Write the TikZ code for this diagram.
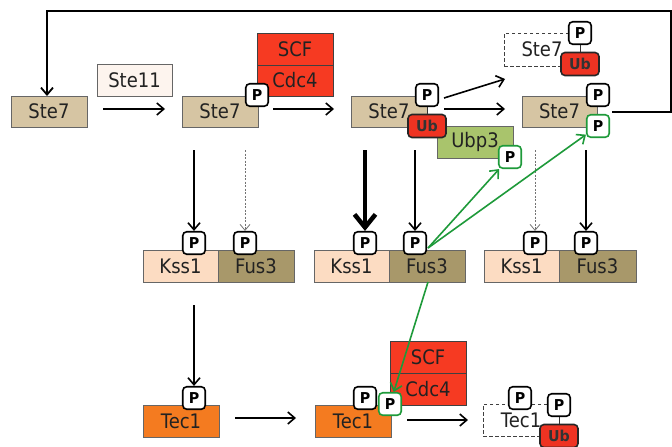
\documentclass[tikz,border=0pt]{standalone}
\usepackage{fontspec}
\usetikzlibrary{arrows.meta,calc}
\newfontfamily\labfont[FakeStretch=0.9]{DejaVu Sans}
\newfontfamily\bfont[FakeStretch=0.95]{DejaVu Sans Bold}
\newcommand\labsz{\labfont\fontsize{20}{20}\selectfont}
\newcommand\psz{\bfont\fontsize{15}{15}\selectfont}
\definecolor{tan}{HTML}{D6C5A3}
\definecolor{cream}{HTML}{FDF4EE}
\definecolor{scfred}{HTML}{F63A22}
\definecolor{ubred}{HTML}{EE3322}
\definecolor{ubpg}{HTML}{A9C46C}
\definecolor{peach}{HTML}{FCDCC2}
\definecolor{olive}{HTML}{A8986A}
\definecolor{tecor}{HTML}{F47B20}
\definecolor{pgreen}{HTML}{1E9A3A}
\definecolor{txt}{HTML}{222222}
\tikzset{
  box/.style={draw=black!60, line width=0.9pt, minimum width=76pt, minimum height=31pt, inner sep=0pt, font=\labsz, text=txt},
  redbox/.style={box, fill=scfred, draw=black!75, line width=1pt},
  dbox/.style={box, draw=black!75, line width=1pt, dash pattern=on 3.5pt off 2.5pt, fill=white},
  pb/.style={draw=black, line width=1.6pt, fill=white, rounded corners=4pt, minimum size=22.5pt, inner sep=0pt, font=\psz, text=black},
  gpb/.style={pb, draw=pgreen},
  ubb/.style={draw=black!85, line width=1.6pt, fill=ubred, rounded corners=4pt, minimum width=38pt, minimum height=23pt, inner sep=0pt, font=\psz, text=black!80},
  arr/.style={line width=1.6pt, -{Straight Barb[length=7pt,width=12pt]}},
  thickarr/.style={line width=4.5pt, -{Straight Barb[length=13pt,width=21pt]}},
  darr/.style={line width=0.8pt, draw=black!55, dash pattern=on 2pt off 1.5pt, -{Straight Barb[length=6pt,width=10pt]}},
  garr/.style={line width=1.6pt, draw=pgreen, -{Straight Barb[length=7pt,width=12pt]}},
  link/.style={line width=0.8pt, draw=black!80}
}
\begin{document}
\begin{tikzpicture}[x=1pt,y=-1pt]
\fill[white] (0,0) rectangle (672,447);
\useasboundingbox (0,0) rectangle (672,447);

% ---- row 1 ----
\node[box, fill=tan] (s71) at (49,111.5) {Ste7};
\node[box, fill=cream, minimum width=75pt, minimum height=32pt] (ste11) at (134.5,80) {Ste11};
\node[box, fill=tan] (s72) at (220,111.5) {Ste7};
\node[redbox, minimum height=32pt] (scf1) at (295,49) {SCF};
\node[redbox] (cdc1) at (295,80.5) {Cdc4};
\node[pb] (p72) at (257,95) {P};

\node[box, fill=tan] (s73) at (389,111.5) {Ste7};
\node[box, fill=ubpg, minimum height=32pt] (ubp3) at (475,142) {Ubp3};
\node[pb] (p73) at (427,95) {P};
\node[ubb] (ub73) at (427,126) {Ub};
\draw[link] (p73) -- (ub73);
\node[gpb] (gpu) at (510,157) {P};

\node[dbox, minimum height=33pt] (s7d) at (542,49.5) {Ste7};
\node[pb] (p7d) at (580,33) {P};
\node[ubb] (ub7d) at (580,64) {Ub};
\draw[link] (p7d) -- (ub7d);

\node[box, fill=tan, minimum width=75pt] (s74) at (559.5,111.5) {Ste7};
\node[pb] (p74) at (598,95) {P};
\node[gpb] (gp74) at (598,126) {P};

% ---- row 2 ----
\node[box, fill=peach, minimum width=75pt, minimum height=32pt] (k1) at (180.5,266) {Kss1};
\node[box, fill=olive, minimum width=76pt, minimum height=32pt] (f1) at (256,266) {Fus3};
\node[box, fill=peach, minimum width=75pt, minimum height=32pt] (k2) at (351.5,266) {Kss1};
\node[box, fill=olive, minimum width=76pt, minimum height=32pt] (f2) at (427,266) {Fus3};
\node[box, fill=peach, minimum width=75pt, minimum height=32pt] (k3) at (521.5,266) {Kss1};
\node[box, fill=olive, minimum width=77pt, minimum height=32pt] (f3) at (597.5,266) {Fus3};
\node[pb] (pk1) at (194,243) {P};
\node[pb] (pf1) at (245,243) {P};
\node[pb] (pk2) at (365,243) {P};
\node[pb] (pf2) at (415,243) {P};
\node[pb] (pk3) at (535,243) {P};
\node[pb] (pf3) at (586,243) {P};

% ---- row 3 ----
\node[box, fill=tecor, minimum height=32pt] (t1) at (181,421) {Tec1};
\node[pb] (pt1) at (194,398) {P};
\node[box, fill=tecor, minimum height=32pt] (t2) at (353,421) {Tec1};
\node[redbox, minimum height=32pt] (scf2) at (428,357) {SCF};
\node[redbox, minimum height=32pt] (cdc2) at (428,389) {Cdc4};
\node[pb] (pt2) at (365,398) {P};
\node[gpb] (gpt2) at (390,404) {P};
\node[dbox, minimum height=32pt] (t3) at (521,420) {Tec1};
\node[pb] (pt3) at (520,398) {P};
\node[pb] (pt3b) at (559,405) {P};
\node[ubb] (ubt3) at (559,436) {Ub};
\draw[link] (pt3b) -- (ubt3);

% ---- black horizontal arrows ----
\coordinate (h1a) at (103,109); \coordinate (h1b) at (165,109);
\draw[arr] (h1a) -- (h1b);
\coordinate (h2a) at (273,109); \coordinate (h2b) at (334,109);
\draw[arr] (h2a) -- (h2b);
\coordinate (h3a) at (444,98); \coordinate (h3b) at (505,79);
\draw[arr] (h3a) -- (h3b);
\coordinate (h4a) at (444,109); \coordinate (h4b) at (505,109);
\draw[arr] (h4a) -- (h4b);
\coordinate (h5a) at (235,418); \coordinate (h5b) at (296,418);
\draw[arr] (h5a) -- (h5b);
\coordinate (h6a) at (407,420); \coordinate (h6b) at (468,420);
\draw[arr] (h6a) -- (h6b);

% ---- loop ----
\coordinate (la) at (612,112);
\coordinate (lb) at (671,112);
\coordinate (lc) at (671,11);
\coordinate (ld) at (47,11);
\coordinate (le) at (47,96);
\draw[line width=1.8pt, -{Straight Barb[length=7pt,width=12pt]}] (la) -- (lb) -- (lc) -- (ld) -- (le);

% ---- vertical arrows ----
\coordinate (v1) at (194,150);
\coordinate (v2) at (245,150);
\coordinate (v3) at (365,150);
\coordinate (v4) at (415,150);
\coordinate (v5) at (535,150);
\coordinate (v6) at (586,150);
\draw[arr] (v1) -- (pk1);
\draw[darr] (v2) -- (pf1);
\draw[thickarr] (v3) -- (pk2);
\draw[arr] (v4) -- (pf2);
\draw[darr] (v5) -- (pk3);
\draw[arr] (v6) -- (pf3);
\coordinate (v7) at (194,305);
\draw[arr] (v7) -- (pt1);

% ---- green arrows ----
\coordinate (g0) at (428,248);
\coordinate (gd) at (428,282);
\draw[garr] (g0) -- (gpu);
\draw[garr] (g0) -- (gp74);
\draw[garr] (gd) -- (gpt2);
\end{tikzpicture}
\end{document}
